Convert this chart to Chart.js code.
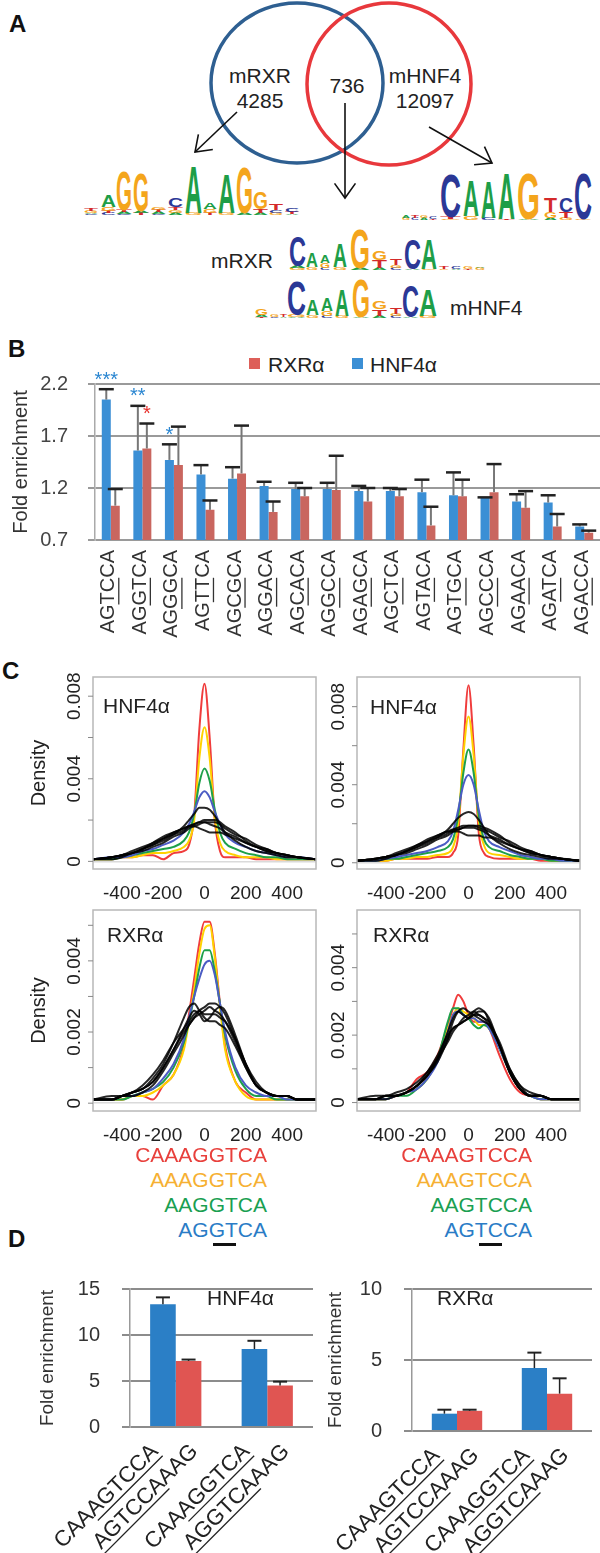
<!DOCTYPE html>
<html>
<head>
<meta charset="utf-8">
<title>RXR / HNF4 motif figure</title>
<script src="https://cdn.jsdelivr.net/npm/chart.js@4.4.1/dist/chart.umd.min.js"></script>
<style>
  body { margin: 0; background: #fff; }
  #page { position: relative; width: 600px; height: 1553px; overflow: hidden; background: #fff;
          font-family: "Liberation Sans", Arial, sans-serif; color: #222; }
  #page canvas, #page svg { position: absolute; }
  .t { position: absolute; white-space: nowrap; line-height: 1; }
  .tag { position: absolute; font-weight: bold; font-size: 24px; line-height: 1; color: #111; }
  .sq { position: absolute; width: 11px; height: 11px; }
</style>
</head>
<body>
<div id="page">
  <svg id="panelA" width="600" height="330" style="left:0;top:0"></svg>

  <div class="tag" style="left:9px;top:12px">A</div>
  <div class="tag" style="left:8px;top:337px">B</div>
  <div class="tag" style="left:2px;top:659px">C</div>
  <div class="tag" style="left:8px;top:1227px">D</div>

  <!-- legend panel B -->
  <div class="sq" style="left:249px;top:358px;background:#dd5f59"></div>
  <div class="t" style="left:268px;top:354px;font-size:21px">RXRα</div>
  <div class="sq" style="left:352px;top:358px;background:#3b8fd5"></div>
  <div class="t" style="left:370px;top:354px;font-size:21px">HNF4α</div>

  <canvas id="chartB" width="600" height="320" style="left:0;top:330px"></canvas>

  <canvas id="cTL" width="320" height="240" style="left:0;top:660px"></canvas>
  <canvas id="cTR" width="300" height="240" style="left:300px;top:660px"></canvas>
  <canvas id="cBL" width="320" height="250" style="left:0;top:893px"></canvas>
  <canvas id="cBR" width="300" height="250" style="left:300px;top:893px"></canvas>

  <div class="t" style="left:103px;top:695px;font-size:21px">HNF4α</div>
  <div class="t" style="left:370px;top:696px;font-size:21px">HNF4α</div>
  <div class="t" style="left:107px;top:924px;font-size:21px">RXRα</div>
  <div class="t" style="left:373px;top:924px;font-size:21px">RXRα</div>

  <div class="t" style="right:333px;top:1144px;font-size:21px;color:#e8403c">CAAAGGTCA</div>
  <div class="t" style="right:333px;top:1169px;font-size:21px;color:#f6b032">AAAGGTCA</div>
  <div class="t" style="right:333px;top:1194px;font-size:21px;color:#1a9f52">AAGGTCA</div>
  <div class="t" style="right:333px;top:1219px;font-size:21px;color:#2a7cc6">AGGTCA</div>
  <div style="position:absolute;left:213px;top:1243px;width:23px;height:3px;background:#111"></div>

  <div class="t" style="right:68px;top:1144px;font-size:21px;color:#e8403c">CAAAGTCCA</div>
  <div class="t" style="right:68px;top:1169px;font-size:21px;color:#f6b032">AAAGTCCA</div>
  <div class="t" style="right:68px;top:1194px;font-size:21px;color:#1a9f52">AAGTCCA</div>
  <div class="t" style="right:68px;top:1219px;font-size:21px;color:#2a7cc6">AGTCCA</div>
  <div style="position:absolute;left:479px;top:1243px;width:23px;height:3px;background:#111"></div>

  <canvas id="dLeft" width="313" height="298" style="left:0;top:1255px"></canvas>
  <canvas id="dRight" width="292" height="298" style="left:300px;top:1255px"></canvas>
  <div class="t" style="left:207px;top:1287px;font-size:21px">HNF4α</div>
  <div class="t" style="left:437px;top:1287px;font-size:21px">RXRα</div>
</div>

<script>
// ---------------- panel B data ----------------
const motifsB = ['AGTCCA','AGGTCA','AGGGCA','AGTTCA','AGCGCA','AGGACA','AGCACA','AGGCCA',
                 'AGAGCA','AGCTCA','AGTACA','AGTGCA','AGCCCA','AGAACA','AGATCA','AGACCA'];
const hnfB      = [2.05,1.56,1.47,1.33,1.29,1.22,1.19,1.19,1.17,1.17,1.16,1.13,1.11,1.07,1.06,0.83];
const hnfSdB    = [0.10,0.43,0.15,0.09,0.11,0.04,0.06,0.06,0.05,0.03,0.12,0.22,0.00,0.07,0.07,0.02];
const rxrB      = [1.03,1.58,1.42,0.99,1.34,0.97,1.12,1.18,1.07,1.12,0.84,1.12,1.16,1.01,0.83,0.77];
const rxrSdB    = [0.16,0.24,0.37,0.09,0.46,0.10,0.08,0.33,0.13,0.07,0.18,0.16,0.27,0.16,0.12,0.02];
const hnfStarsB = ['***','**','*','','','','','','','','','','','','',''];
const rxrStarsB = ['','*','','','','','','','','','','','','','',''];
const yTicksB   = [0.7, 1.2, 1.7, 2.2];

// ---------------- panel C data (density, units of 1e-4) ----------------
const posC     = [-540,-450,-400,-350,-300,-250,-200,-150,-100,-75,-50,-25,0,25,50,75,100,150,200,250,300,350,400,450,540];
const xTicksC  = [-400, -200, 0, 200, 400];

const hnfLRed    = [1,1,2,2,3,3,1,4,5,8,22,64,86,60,20,5,2,2,2,1,1,1,1,1,1];
const hnfLYellow = [1,1,2,2,3,4,4,5,7,10,20,50,65,50,21,9,5,3,2,2,2,1,1,1,1];
const hnfLGreen  = [1,1,2,3,4,5,6,7,10,14,23,38,45,39,25,14,9,6,4,3,2,2,1,1,1];
const hnfLBlue   = [1,2,2,3,5,6,8,10,14,18,24,31,34,31,24,18,13,9,7,5,4,3,2,2,1];
const hnfLBlack  = [
  [1,2,3,4,6,8,10,13,17,20,23,26,26,25,22,18,14,10,7,5,4,3,2,2,1],
  [1,2,3,4,6,8,11,13,15,17,18,19,20,20,20,19,17,14,10,7,5,4,3,2,1],
  [1,2,3,5,7,9,12,14,16,17,17,16,15,14,14,14,13,11,9,7,6,4,3,2,1],
  [1,2,3,4,6,9,11,14,16,17,18,19,19,18,17,16,14,12,9,7,5,4,3,2,1],
  [1,1,2,4,5,7,9,12,14,16,17,18,19,19,19,18,16,13,11,8,6,4,3,2,1]
];

const hnfRRed    = [1,1,1,2,2,2,2,3,3,5,14,58,91,60,15,5,3,2,2,2,2,1,1,1,1];
const hnfRYellow = [1,1,1,2,2,3,3,4,5,8,20,55,75,55,21,9,5,4,3,2,2,2,1,1,1];
const hnfRGreen  = [1,1,2,2,3,4,5,6,8,12,24,46,58,46,24,12,8,6,4,3,2,2,1,1,1];
const hnfRBlue   = [1,1,2,3,4,5,6,8,11,16,27,40,45,40,27,16,11,8,6,4,3,2,2,1,1];
const hnfRBlack  = [
  [1,2,3,4,6,8,10,13,17,20,23,25,26,25,22,18,14,10,7,5,4,3,2,2,1],
  [1,2,3,4,6,8,11,13,15,17,18,19,19,19,19,18,17,14,10,7,5,4,3,2,1],
  [1,2,3,5,7,9,12,14,16,16,16,15,14,14,14,13,13,11,9,7,6,4,3,2,1],
  [1,2,3,4,6,9,11,14,16,17,17,18,18,18,17,16,14,12,9,7,5,4,3,2,1],
  [1,1,2,4,5,7,9,12,14,16,17,18,19,19,18,17,16,13,11,8,6,4,3,2,1]
];

const rxrLRed    = [1,1,1,2,2,1,5,8,16,25,35,45,51,51,42,28,16,6,3,1,1,1,1,1,1];
const rxrLYellow = [1,1,1,2,2,3,5,8,15,23,32,42,49,50,41,27,15,6,2,1,1,1,1,1,1];
const rxrLGreen  = [1,1,1,2,3,4,6,10,17,23,30,38,43,43,37,28,19,9,4,2,2,1,1,1,1];
const rxrLBlue   = [1,1,2,2,3,4,7,11,18,24,30,35,39,40,36,28,20,10,5,3,2,2,1,1,1];
const rxrLBlack  = [
  [1,1,2,3,4,7,11,17,24,27,28,26,24,23,23,22,21,16,10,5,3,2,2,1,1],
  [1,1,2,2,3,5,9,14,19,22,24,26,27,28,28,27,25,18,11,5,3,2,2,1,1],
  [1,1,2,3,4,6,10,15,20,22,24,25,26,27,26,25,23,17,10,5,3,2,2,1,1],
  [1,2,2,3,5,8,12,17,21,23,25,26,25,25,25,24,23,18,11,6,3,2,2,1,1],
  [1,1,2,3,4,6,10,15,21,24,26,25,23,24,26,27,26,19,11,5,3,2,2,1,1]
];

const rxrRRed    = [1,1,1,2,3,7,9,14,23,28,32,30,26,24,24,24,22,14,7,3,2,1,1,1,1];
const rxrRYellow = [1,1,1,2,3,4,7,13,22,26,28,27,26,25,23,23,22,16,9,4,2,1,1,1,1];
const rxrRGreen  = [1,1,1,2,2,4,7,13,24,28,28,26,25,23,22,23,22,16,9,4,2,1,1,1,1];
const rxrRBlue   = [1,1,1,2,3,4,7,12,21,26,27,26,25,25,24,24,22,16,9,4,2,1,1,1,1];
const rxrRBlack  = [
  [1,1,2,2,3,5,8,13,21,25,27,26,25,26,27,27,24,17,9,4,2,2,1,1,1],
  [1,1,1,2,3,5,8,13,19,22,23,24,25,27,28,27,25,17,9,4,2,2,1,1,1],
  [1,1,2,2,3,5,9,14,20,22,23,24,25,26,26,25,24,17,9,4,2,2,1,1,1],
  [1,2,2,3,4,6,9,13,18,21,23,25,26,27,26,25,23,17,10,5,3,2,1,1,1],
  [1,1,2,2,3,5,8,12,19,24,27,28,27,26,25,24,23,18,10,5,2,2,1,1,1]
];

const yTicksTop    = [0, 20, 40, 60, 80];
const yLabelsTop   = ['0', '', '0.004', '', '0.008'];
const yTicksBottom = [0, 10, 20, 30, 40, 50];
const yLabelsBottom = ['0', '', '0.002', '', '0.004', ''];

// ---------------- panel D data ----------------
const dLabels  = [['CAAAGTCCA','AGTCCAAAG'], ['CAAAGGTCA','AGGTCAAAG']];
const dUnder   = [[[3,9],[0,6]], [[3,9],[0,6]]];
const hnfDFwd  = [13.33, 8.47];
const hnfDRev  = [7.18, 4.50];
const hnfDFwdSd = [0.76, 0.90];
const hnfDRevSd = [0.15, 0.43];
const rxrDFwd  = [1.22, 4.43];
const rxrDRev  = [1.42, 2.63];
const rxrDFwdSd = [0.28, 1.09];
const rxrDRevSd = [0.08, 1.08];

// ---------------- shared styling ----------------
const FONT = '"Liberation Sans", Arial, sans-serif';
Chart.defaults.font.family = FONT;
Chart.defaults.color = '#222';

const COL = { red: '#f03c3c', yellow: '#ffd200', green: '#1ea04a', blue: '#4b5cc4', black: 'rgba(0,0,0,0.85)' };

function drawUl(ctx, text, ul, x, y, angle, size, color) {
  ctx.save();
  ctx.translate(x, y);
  ctx.rotate(angle);
  ctx.font = size + 'px ' + FONT;
  ctx.fillStyle = color;
  ctx.strokeStyle = color;
  ctx.textAlign = 'right';
  ctx.textBaseline = 'middle';
  ctx.fillText(text, 0, 0);
  if (ul) {
    const w = ctx.measureText(text).width;
    const a = -w + ctx.measureText(text.slice(0, ul[0])).width;
    const b = -w + ctx.measureText(text.slice(0, ul[1])).width;
    const uy = size * 0.45 + 1;
    ctx.lineWidth = 1.3;
    ctx.beginPath(); ctx.moveTo(a, uy); ctx.lineTo(b, uy); ctx.stroke();
  }
  ctx.restore();
}

const errorBars = {
  id: 'errorBars',
  afterDatasetsDraw(chart, args, o) {
    const { ctx, scales: { y } } = chart;
    chart.data.datasets.forEach((ds, i) => {
      if (!ds.errUp) return;
      chart.getDatasetMeta(i).data.forEach((bar, j) => {
        const top = y.getPixelForValue(ds.data[j] + ds.errUp[j]);
        ctx.save();
        ctx.strokeStyle = o.stem; ctx.lineWidth = o.stemWidth;
        ctx.beginPath(); ctx.moveTo(bar.x, bar.y); ctx.lineTo(bar.x, top); ctx.stroke();
        ctx.strokeStyle = o.cap; ctx.lineWidth = o.capWidth;
        ctx.beginPath(); ctx.moveTo(bar.x - o.capLen / 2, top); ctx.lineTo(bar.x + o.capLen / 2, top); ctx.stroke();
        ctx.restore();
      });
    });
  }
};

const sigStars = {
  id: 'sigStars',
  afterDatasetsDraw(chart, args, o) {
    const { ctx, scales: { y } } = chart;
    chart.data.datasets.forEach((ds, i) => {
      if (!ds.stars) return;
      chart.getDatasetMeta(i).data.forEach((bar, j) => {
        const s = ds.stars[j];
        if (!s) return;
        const top = y.getPixelForValue(ds.data[j] + ds.errUp[j]);
        ctx.save();
        ctx.font = o.size + 'px ' + FONT;
        ctx.fillStyle = ds.starColor;
        ctx.textAlign = 'center';
        ctx.fillText(s, bar.x, top - o.gap + o.size * 0.58);
        ctx.restore();
      });
    });
  }
};

const motifLabels = {
  id: 'motifLabels',
  afterDraw(chart, args, o) {
    const { ctx, chartArea: a, scales: { x } } = chart;
    o.text.forEach((t, i) => drawUl(ctx, t, o.ul, x.getPixelForValue(i) + o.dx, a.bottom + o.gap, -Math.PI / 2, o.size, '#333'));
  }
};

const barLabels = {
  id: 'barLabels',
  afterDraw(chart, args, o) {
    const { ctx, chartArea: a } = chart;
    chart.data.datasets.forEach((ds, i) => {
      chart.getDatasetMeta(i).data.forEach((bar, j) => {
        drawUl(ctx, o.text[j][i], o.ul[j][i], bar.x + o.dx[i], a.bottom + o.dy, -Math.PI / 4, o.size, '#222');
      });
    });
  }
};

const rBox = {
  id: 'rBox',
  afterDraw(chart, args, o) {
    const { ctx, chartArea: a, scales: { y } } = chart;
    ctx.save();
    ctx.strokeStyle = '#b8b8b8'; ctx.lineWidth = 1.5;
    ctx.strokeRect(a.left, a.top, a.right - a.left, a.bottom - a.top);
    ctx.strokeStyle = '#888'; ctx.lineWidth = 1;
    ctx.font = '19px ' + FONT; ctx.fillStyle = '#222';
    ctx.textAlign = 'center'; ctx.textBaseline = 'middle';
    o.ticks.forEach((v, i) => {
      const py = y.getPixelForValue(v);
      ctx.beginPath(); ctx.moveTo(a.left - 5, py); ctx.lineTo(a.left, py); ctx.stroke();
      if (o.labels[i]) {
        ctx.save(); ctx.translate(a.left - 18, py); ctx.rotate(-Math.PI / 2);
        ctx.fillText(o.labels[i], 0, 0); ctx.restore();
      }
    });
    ctx.restore();
  }
};

// ---------------- panel A (diagram) ----------------
const NS = 'http://www.w3.org/2000/svg';
const svgA = document.getElementById('panelA');
function add(tag, attrs, text) {
  const e = document.createElementNS(NS, tag);
  for (const k in attrs) e.setAttribute(k, attrs[k]);
  if (text != null) e.textContent = text;
  svgA.appendChild(e);
  return e;
}
function arrow(x1, y1, x2, y2) {
  add('line', { x1, y1, x2, y2, stroke: '#111', 'stroke-width': 1.6 });
  const ang = Math.atan2(y2 - y1, x2 - x1), L = 18, s = 0.62;
  const p = [[x2 - L * Math.cos(ang - s), y2 - L * Math.sin(ang - s)], [x2, y2],
             [x2 - L * Math.cos(ang + s), y2 - L * Math.sin(ang + s)]];
  add('polyline', { points: p.map(q => q.join(',')).join(' '), fill: 'none', stroke: '#111', 'stroke-width': 1.6 });
}

add('ellipse', { cx: 297, cy: 83, rx: 86, ry: 80, fill: 'none', stroke: '#2e5f91', 'stroke-width': 3.5 });
add('ellipse', { cx: 389, cy: 84, rx: 82, ry: 81, fill: 'none', stroke: '#e8383c', 'stroke-width': 3.5 });
[['mRXR', 260, 82.5], ['4285', 260, 107.5], ['736', 347, 92.5], ['mHNF4', 425, 82.5], ['12097', 425, 107.5]]
  .forEach(([s, x, y]) => add('text', { x, y, 'font-size': 21, 'text-anchor': 'middle', fill: '#222' }, s));

arrow(237, 112, 195, 152);
arrow(345, 103, 345, 198);
arrow(429, 127, 492, 163);

const LOGO = { A: '#1e9e48', C: '#2b3896', G: '#f4a51c', T: '#d42a2a' };
function logo(base, cols) {
  cols.forEach(([x, w, stack]) => {
    let y = base;
    stack.forEach(([ch, h]) => {
      add('text', { x: 0, y: 0, 'font-size': 20, 'font-weight': 'bold', fill: LOGO[ch],
        textLength: w, lengthAdjust: 'spacingAndGlyphs',
        transform: `translate(${x},${y}) scale(1,${h / 14.3})` }, ch);
      y -= h;
    });
  });
}
logo(215, [
  [84, 14, [['C',1],['A',1.5],['G',2],['T',3]]],
  [101, 15, [['C',2],['T',2],['G',4],['A',12]]],
  [116, 16, [['C',1],['A',2],['T',2],['G',40]]],
  [133, 16, [['T',2],['A',2],['G',38]]],
  [151, 15, [['C',1],['A',2],['T',2],['G',3]]],
  [168, 15, [['A',2],['G',3],['T',3],['C',9]]],
  [185, 17, [['G',2],['A',48]]],
  [203, 14, [['T',2],['G',4],['A',7]]],
  [218, 17, [['G',2],['A',40]]],
  [236, 17, [['A',2],['G',46]]],
  [253, 15, [['A',2],['T',4],['G',17]]],
  [269, 14, [['G',2],['C',3],['T',6]]],
  [285, 14, [['A',1],['T',2],['C',4]]]
]);
logo(220, [
  [402, 8, [['G',2],['A',2]]], [411, 8, [['C',2],['T',2]]], [420, 8, [['A',2],['G',2]]], [429, 8, [['T',1],['C',2]]],
  [440, 21, [['G',1],['T',2],['C',44]]],
  [463, 16, [['G',4],['A',36]]],
  [481, 15, [['C',2],['A',37]]],
  [498, 17, [['T',1],['A',46]]],
  [517, 23, [['A',1],['G',47]]],
  [544, 13, [['A',2],['G',6],['T',15]]],
  [559, 14, [['G',2],['T',6],['C',15]]],
  [574, 18, [['G',1],['C',46]]]
]);
logo(270, [
  [289, 17, [['G',2],['A',2],['C',31]]],
  [306, 12, [['G',3],['A',14]]],
  [320, 10, [['C',2],['G',5],['A',8]]],
  [333, 14, [['G',3],['A',24]]],
  [350, 20, [['A',2],['G',40]]],
  [372, 15, [['A',2],['T',8],['G',9]]],
  [390, 12, [['C',2],['G',3],['T',7]]],
  [404, 17, [['A',1],['C',31]]],
  [421, 16, [['G',1],['A',31]]],
  [439, 10, [['G',1],['T',2]]], [451, 10, [['A',1],['C',2]]], [463, 10, [['T',1],['G',2]]], [475, 10, [['G',2],['A',1]]]
]);
logo(318, [
  [255, 13, [['T',1],['A',2],['G',6]]],
  [270, 9, [['C',1],['G',2]]],
  [280, 7, [['A',1],['T',2]]],
  [287, 19, [['A',1],['G',2],['C',34]]],
  [306, 13, [['G',3],['A',16]]],
  [321, 12, [['C',2],['G',5],['A',13]]],
  [335, 14, [['G',2],['A',26]]],
  [352, 18, [['A',1],['G',39]]],
  [372, 15, [['A',2],['T',7],['G',8]]],
  [390, 12, [['C',2],['G',2],['T',6]]],
  [402, 17, [['A',1],['C',32]]],
  [419, 18, [['G',2],['A',26]]]
]);
add('text', { x: 211, y: 268, 'font-size': 21, fill: '#222' }, 'mRXR');
add('text', { x: 450, y: 315, 'font-size': 21, fill: '#222' }, 'mHNF4');

// ---------------- panel B ----------------
new Chart(document.getElementById('chartB'), {
  type: 'bar',
  data: {
    labels: motifsB,
    datasets: [
      { label: 'HNF4α', data: hnfB, errUp: hnfSdB, stars: hnfStarsB, starColor: '#2a86d1', backgroundColor: '#3b8fd5' },
      { label: 'RXRα', data: rxrB, errUp: rxrSdB, stars: rxrStarsB, starColor: '#e8302c', backgroundColor: '#c9665f' }
    ]
  },
  options: {
    responsive: false, animation: false, devicePixelRatio: 1,
    layout: { padding: { top: 54, right: 0, bottom: 102, left: 0 } },
    datasets: { bar: { categoryPercentage: 0.57, barPercentage: 1 } },
    plugins: {
      legend: { display: false }, tooltip: { enabled: false },
      errorBars: { stem: '#777', stemWidth: 2, cap: '#222', capWidth: 2.5, capLen: 15 },
      sigStars: { size: 20, gap: 15 },
      motifLabels: { text: motifsB, ul: [2, 4], dx: -2, gap: 10, size: 20 }
    },
    scales: {
      x: { ticks: { display: false }, grid: { display: false }, border: { display: false } },
      y: {
        min: 0.7, max: 2.2,
        afterBuildTicks: s => { s.ticks = yTicksB.map(v => ({ value: v })); },
        afterFit: s => { s.width = 95; },
        ticks: { font: { size: 20 }, color: '#444', padding: 20, callback: v => v.toFixed(1) },
        grid: { color: '#9a9a9a', lineWidth: 2, tickLength: 7 },
        border: { color: '#aaa', width: 1.5 },
        title: { display: true, text: 'Fold enrichment', font: { size: 20 }, color: '#333', padding: { top: 9, bottom: 0 } }
      }
    }
  },
  plugins: [errorBars, sigStars, motifLabels]
});

// ---------------- panel C ----------------
function densityChart(id, cfg) {
  const sets = [];
  cfg.black.forEach(arr => sets.push({ data: arr, color: COL.black }));
  sets.push({ data: cfg.blue, color: COL.blue }, { data: cfg.green, color: COL.green },
            { data: cfg.yellow, color: COL.yellow }, { data: cfg.red, color: COL.red });
  return new Chart(document.getElementById(id), {
    type: 'line',
    data: {
      datasets: sets.map(s => ({
        data: posC.map((x, i) => ({ x, y: s.data[i] })),
        borderColor: s.color, borderWidth: 2, pointRadius: 0, cubicInterpolationMode: 'monotone', fill: false
      }))
    },
    options: {
      responsive: false, animation: false, devicePixelRatio: 1,
      layout: { padding: { top: 17, right: cfg.padRight, bottom: 0, left: 0 } },
      plugins: { legend: { display: false }, tooltip: { enabled: false }, rBox: { ticks: cfg.yTicks, labels: cfg.yLabels } },
      scales: {
        x: {
          type: 'linear', min: -540, max: 540,
          afterBuildTicks: s => { s.ticks = xTicksC.map(v => ({ value: v })); },
          afterFit: s => { s.height = cfg.xh; },
          ticks: { font: { size: 19 }, color: '#222', padding: 5, maxRotation: 0, autoSkip: false },
          grid: { display: false }, border: { display: false }
        },
        y: {
          min: cfg.ymin, max: cfg.ymax,
          afterBuildTicks: s => { s.ticks = cfg.yTicks.map(v => ({ value: v })); },
          afterFit: s => { s.width = cfg.yw; },
          ticks: { display: false },
          grid: { drawTicks: false, lineWidth: 1.5, color: c => (c.tick && c.tick.value === 0) ? '#dadada' : 'rgba(0,0,0,0)' },
          border: { display: false },
          title: { display: cfg.title, text: 'Density', font: { size: 20 }, color: '#222', padding: { top: 27, bottom: 0 } }
        }
      }
    },
    plugins: [rBox]
  });
}

densityChart('cTL', { red: hnfLRed, yellow: hnfLYellow, green: hnfLGreen, blue: hnfLBlue, black: hnfLBlack,
  ymin: -3.7, ymax: 89.3, yTicks: yTicksTop, yLabels: yLabelsTop, yw: 93, padRight: 4, xh: 31, title: true });
densityChart('cTR', { red: hnfRRed, yellow: hnfRYellow, green: hnfRGreen, blue: hnfRBlue, black: hnfRBlack,
  ymin: -3.2, ymax: 95.2, yTicks: yTicksTop, yLabels: yLabelsTop, yw: 57, padRight: 20, xh: 31, title: false });
densityChart('cBL', { red: rxrLRed, yellow: rxrLYellow, green: rxrLGreen, blue: rxrLBlue, black: rxrLBlack,
  ymin: -2.2, ymax: 54.3, yTicks: yTicksBottom, yLabels: yLabelsBottom, yw: 93, padRight: 4, xh: 32, title: true });
densityChart('cBR', { red: rxrRRed, yellow: rxrRYellow, green: rxrRGreen, blue: rxrRBlue, black: rxrRBlack,
  ymin: -2.5, ymax: 57.1, yTicks: yTicksBottom, yLabels: yLabelsBottom, yw: 57, padRight: 20, xh: 32, title: false });

// ---------------- panel D ----------------
function enrichChart(id, cfg) {
  return new Chart(document.getElementById(id), {
    type: 'bar',
    data: {
      labels: ['1', '2'],
      datasets: [
        { data: cfg.fwd, errUp: cfg.fwdSd, backgroundColor: '#2b7fc6' },
        { data: cfg.rev, errUp: cfg.revSd, backgroundColor: '#e05552' }
      ]
    },
    options: {
      responsive: false, animation: false, devicePixelRatio: 1,
      layout: { padding: { top: cfg.padTop, right: 0, bottom: cfg.padBottom, left: 0 } },
      datasets: { bar: { categoryPercentage: 0.56, barPercentage: 1 } },
      plugins: {
        legend: { display: false }, tooltip: { enabled: false },
        errorBars: { stem: '#222', stemWidth: 1.5, cap: '#222', capWidth: 2, capLen: 14 },
        barLabels: { text: dLabels, ul: dUnder, dx: [-8, 6], dy: 21, size: 22 }
      },
      scales: {
        x: { ticks: { display: false }, grid: { display: false }, border: { display: false } },
        y: {
          min: 0, max: cfg.max,
          afterBuildTicks: s => { s.ticks = cfg.ticks.map(v => ({ value: v })); },
          afterFit: s => { s.width = cfg.yw; },
          ticks: { font: { size: 20 }, color: '#333', padding: 22 },
          grid: { color: '#8c8c8c', lineWidth: 2, tickLength: 8 },
          border: { color: '#999', width: 1.5 },
          title: { display: true, text: 'Fold enrichment', font: { size: 19 }, color: '#333', padding: { top: cfg.titlePad, bottom: 0 } }
        }
      }
    },
    plugins: [errorBars, barLabels]
  });
}

enrichChart('dLeft', { fwd: hnfDFwd, rev: hnfDRev, fwdSd: hnfDFwdSd, revSd: hnfDRevSd,
  max: 15, ticks: [0, 5, 10, 15], yw: 130, padTop: 15, padBottom: 118, titlePad: 36 });
enrichChart('dRight', { fwd: rxrDFwd, rev: rxrDRev, fwdSd: rxrDFwdSd, revSd: rxrDRevSd,
  max: 10, ticks: [0, 5, 10], yw: 112, padTop: 18, padBottom: 114, titlePad: 24 });
</script>
</body>
</html>
